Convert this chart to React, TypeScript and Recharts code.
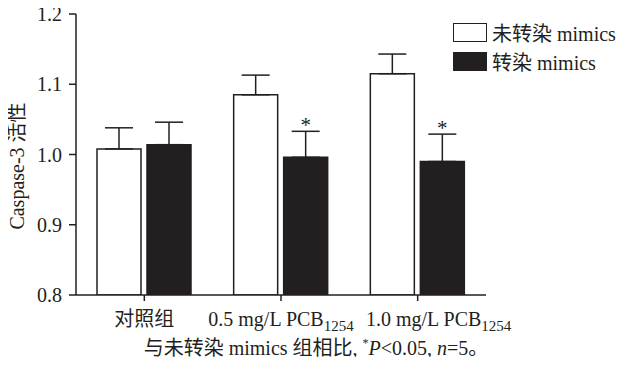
import React from 'react'
import { BarChart, Bar, XAxis, YAxis, ErrorBar, LabelList, Legend } from 'recharts'

const categories = ['对照组', '0.5 mg/L PCB', '1.0 mg/L PCB']
const subscripts = ['', '1254', '1254']
const untransfected = [1.008, 1.085, 1.115]
const untransfectedErr = [0.03, 0.028, 0.028]
const transfected = [1.014, 0.996, 0.99]
const transfectedErr = [0.032, 0.037, 0.039]
const significance = ['', '*', '*']
const yTicks = [0.8, 0.9, 1.0, 1.1, 1.2]

const seriesNames = ['未转染 mimics', '转染 mimics']
const caption = '与未转染 mimics 组相比, '

const FONT = "'Liberation Serif', 'Noto Sans CJK SC', serif"
const INK = '#231f20'
const DOMAIN_MIN = 0.8
// the last category label sits a bit right of its tick in the original
const TICK_SHIFT = [0, 0, 21]

const data = categories.map((name, i) => ({
  name,
  sub: subscripts[i],
  a: untransfected[i],
  aErr: [0, untransfectedErr[i]],
  b: transfected[i],
  bErr: [0, transfectedErr[i]],
  sig: significance[i]
}))

const CategoryTick = (props: any) => {
  const { x, y, payload, index } = props
  const sub = subscripts[index]
  return (
    <text x={x + TICK_SHIFT[index]} y={y + 23} textAnchor="middle" fontFamily={FONT} fontSize={20} fill={INK}>
      {payload.value}
      {sub && (
        <tspan fontSize={15} dy={5}>
          {sub}
        </tspan>
      )}
    </text>
  )
}

// asterisk placed just above the error bar cap of the black bar
const SigLabel = (props: any) => {
  const { x, y, width, height, index, value } = props
  if (!value) return null
  const pxPerUnit = height / (transfected[index] - DOMAIN_MIN)
  const capY = y - transfectedErr[index] * pxPerUnit
  return (
    <text x={x + width / 2} y={capY + 1} textAnchor="middle" fontFamily={FONT} fontSize={21} fill={INK}>
      {value}
    </text>
  )
}

const LegendBox = () => (
  <div style={{ fontFamily: FONT, fontSize: 20, color: INK, whiteSpace: 'nowrap' }}>
    {seriesNames.map((n, i) => (
      <div key={n} style={{ display: 'flex', alignItems: 'center', height: 29 }}>
        <span
          style={{
            display: 'inline-block',
            width: 32,
            height: 17,
            border: `1.5px solid ${INK}`,
            background: i === 0 ? '#fff' : INK,
            marginRight: 5
          }}
        />
        <span>{n}</span>
      </div>
    ))}
  </div>
)

const YLabel = () => (
  <text
    x={0}
    y={0}
    transform="translate(24, 166) rotate(-90)"
    textAnchor="middle"
    fontFamily={FONT}
    fontSize={20}
    fill={INK}
  >
    Caspase-3 活性
  </text>
)

export default function App() {
  return (
    <div style={{ position: 'relative', width: 624, height: 365, margin: -8, background: '#fff' }}>
      <BarChart
        width={624}
        height={365}
        data={data}
        margin={{ top: 14, right: 138, bottom: 30, left: 0 }}
        barSize={44}
        barGap={6}
      >
        <XAxis
          dataKey="name"
          tick={<CategoryTick />}
          tickSize={6}
          height={40}
          axisLine={{ stroke: INK, strokeWidth: 1.5 }}
          tickLine={{ stroke: INK, strokeWidth: 1.5 }}
          interval={0}
        />
        <YAxis
          width={76}
          domain={[0.8, 1.2]}
          ticks={yTicks}
          tickFormatter={(v: number) => v.toFixed(1)}
          tickSize={7}
          tick={{ fontFamily: FONT, fontSize: 20, fill: INK, dx: -5 }}
          axisLine={{ stroke: INK, strokeWidth: 1.5 }}
          tickLine={{ stroke: INK, strokeWidth: 1.5 }}
          allowDataOverflow
          label={<YLabel />}
        />
        <Legend
          layout="vertical"
          align="center"
          verticalAlign="middle"
          content={<LegendBox />}
          wrapperStyle={{ top: 18, left: 453, width: 171 }}
        />
        <Bar dataKey="a" name={seriesNames[0]} fill="#fff" stroke={INK} strokeWidth={1.5} isAnimationActive={false}>
          <ErrorBar dataKey="aErr" width={14} stroke={INK} strokeWidth={1.5} direction="y" />
        </Bar>
        <Bar dataKey="b" name={seriesNames[1]} fill={INK} stroke={INK} strokeWidth={1.5} isAnimationActive={false}>
          <ErrorBar dataKey="bErr" width={14} stroke={INK} strokeWidth={1.5} direction="y" />
          <LabelList dataKey="sig" content={<SigLabel />} />
        </Bar>
      </BarChart>
      <div
        style={{
          position: 'absolute',
          top: 338,
          left: 0,
          width: 632,
          textAlign: 'center',
          fontFamily: FONT,
          fontSize: 20,
          lineHeight: '20px',
          color: INK,
          whiteSpace: 'nowrap'
        }}
      >
        {caption}
        <sup style={{ fontSize: 12, lineHeight: 0 }}>*</sup>
        <i>P</i>&lt;0.05, <i>n</i>=5。
      </div>
    </div>
  )
}
